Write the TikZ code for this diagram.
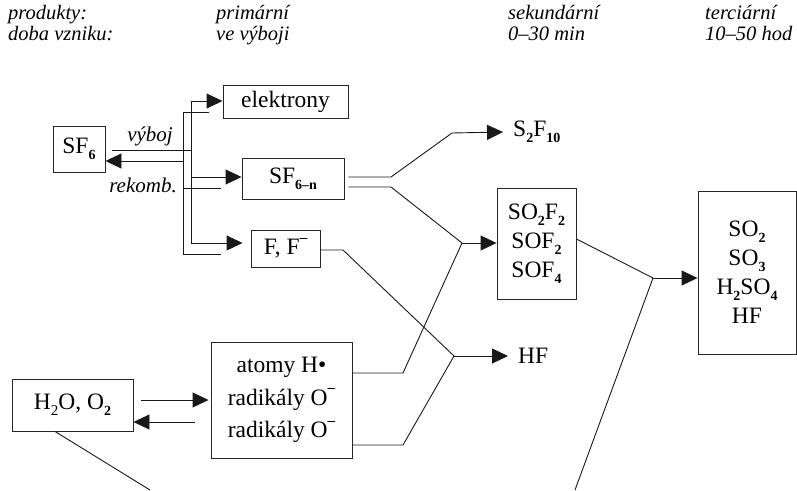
\documentclass[tikz,border=0pt]{standalone}
\usepackage{fontspec}
\setmainfont{Liberation Serif}
\usetikzlibrary{arrows.meta,calc}
\newcommand\sbs[1]{\raisebox{-0.24em}{\fontsize{14}{14}\selectfont\bfseries #1}}
\newcommand\sbr[1]{\raisebox{-0.24em}{\fontsize{15}{15}\selectfont #1}}
\newcommand\minus{\raisebox{0.52em}{\fontsize{15}{15}\selectfont\bfseries –}}
\newcommand\mainsize{\fontsize{23.5}{29}\selectfont}
\tikzset{
  box/.style={draw=black!85,line width=0.9pt,inner sep=0pt,align=center,font=\mainsize},
  conn/.style={draw=black!90,line width=0.9pt},
  arr/.style={conn,-{Triangle[length=16pt,width=15pt]}},
  hdr/.style={anchor=base west,inner sep=0pt,font=\fontsize{20.5}{20.5}\selectfont\itshape},
  lbl/.style={inner sep=0pt,font=\fontsize{21}{21}\selectfont\itshape},
  txt/.style={inner sep=0pt,font=\mainsize}
}
\begin{document}
\begin{tikzpicture}[x=1pt,y=-1pt]
\useasboundingbox (0,0) rectangle (797,490);
% headers
\node[hdr] (h1) at (8,19.5) {produkty:};
\node[hdr] (h2) at (8,40) {doba vzniku:};
\node[hdr] (h3) at (216,19.5) {primární};
\node[hdr] (h4) at (216,40) {ve výboji};
\node[hdr] (h5) at (508,19.5) {sekundární};
\node[hdr] (h6) at (508,40) {0–30 min};
\node[hdr] (h7) at (705,19.5) {terciární};
\node[hdr] (h8) at (705,40) {10–50 hod};
% boxes
\node[box,minimum width=52pt,minimum height=46pt] (sf6) at (79,149) {SF\sbs{6}};
\node[box,minimum width=125pt,minimum height=33pt] (elek) at (285.5,101.5) {elektrony};
\node[box,minimum width=102pt,minimum height=41pt] (sf6n) at (293,178.5) {SF\sbs{6–n}};
\node[box,minimum width=69pt,minimum height=37pt] (ff) at (285.5,248.5) {F, F\minus};
\node[box,minimum width=79pt,minimum height=111pt] (so) at (536.5,243.5) {SO\sbs{2}F\sbs{2}\\SOF\sbs{2}\\SOF\sbs{4}};
\node[box,minimum width=98pt,minimum height=163pt] (terc) at (747,272.5) {SO\sbs{2}\\SO\sbs{3}\\H\sbs{2}SO\sbs{4}\\HF};
\node[box,minimum width=121pt,minimum height=52pt] (h2o) at (72.5,405) {H\sbr{2}O, O\sbs{2}};
\node[box,minimum width=141pt,minimum height=116pt,font=\fontsize{23.5}{32.5}\selectfont] (atomy) at (281.5,400) {atomy H•\\radikály O\minus\\radikály O\minus};
% free labels
\node[txt,anchor=west] (s2f10) at (513,132) {S\sbs{2}F\sbs{10}};
\node[txt,anchor=west] (hf) at (518,356) {HF};
\node[lbl] (vyboj) at (150,136) {výboj};
\node[lbl,anchor=east] (rekomb) at (177,185) {rekomb.};
% coordinates
\coordinate (bBt) at (191,101);
\coordinate (bBb) at (191,243);
\coordinate (bAt) at (183,112);
\coordinate (bAb) at (183,254);
\coordinate (jS) at (462,243);
\coordinate (jHF) at (454,356);
\coordinate (jT) at (653,278);
\coordinate (e1) at (575,490);
\coordinate (e2) at (150,490);
% buses
\draw[conn] (bBt) -- (bBb);
\draw[conn] (bAt) -- (bAb);
\draw[conn] ($(sf6.east)+(7,1)$) -- (bBt |- 0,150);
\draw[arr] (bAt |- 0,161) -- (sf6.east |- 0,161);
\draw[arr] (bBt) -- (elek.west |- bBt);
\draw[conn] (bAt) -- ++(26,0);
\draw[arr] (bBt |- 0,177) -- (sf6n.west |- 0,177);
\draw[conn] (bAt |- 0,188) -- ++(38,0);
\draw[arr] (bBb) -- ($(ff.west |- bBb)+(-8,0)$);
\draw[conn] (bAb) -- ++(38,0);
% secondary
\draw[arr] ($(sf6n.east |- 0,177)+(4,0)$) -- (391,177) -- (452,133) -- ($(s2f10.west)+(-10,0)$);
\draw[conn] ($(sf6n.east |- 0,187)+(4,0)$) -- (391,187) -- (jS);
\draw[arr] (jS) -- (so.west |- jS);
\draw[conn] (atomy.east |- 0,373) -- (403,373) -- (jS);
\draw[conn] (ff.east |- 0,250) -- (343,250) -- (jHF);
\draw[arr] (jHF) -- ($(hf.west)+(-10,0)$);
\draw[conn] (atomy.east |- 0,445) -- (403,445) -- (jHF);
% tertiary
\draw[conn] (so.east |- 0,239) -- (jT);
\draw[arr] (jT) -- (terc.west |- jT);
\draw[conn] (jT) -- (e1);
% water
\draw[conn] (h2o.south -| 55,0) -- (e2);
\draw[arr] ($(h2o.east |- 0,400)+(8,0)$) -- ($(atomy.west |- 0,400)+(-2,0)$);
\draw[arr] ($(atomy.west |- 0,422)+(-16,0)$) -- (h2o.east |- 0,422);
\end{tikzpicture}
\end{document}
